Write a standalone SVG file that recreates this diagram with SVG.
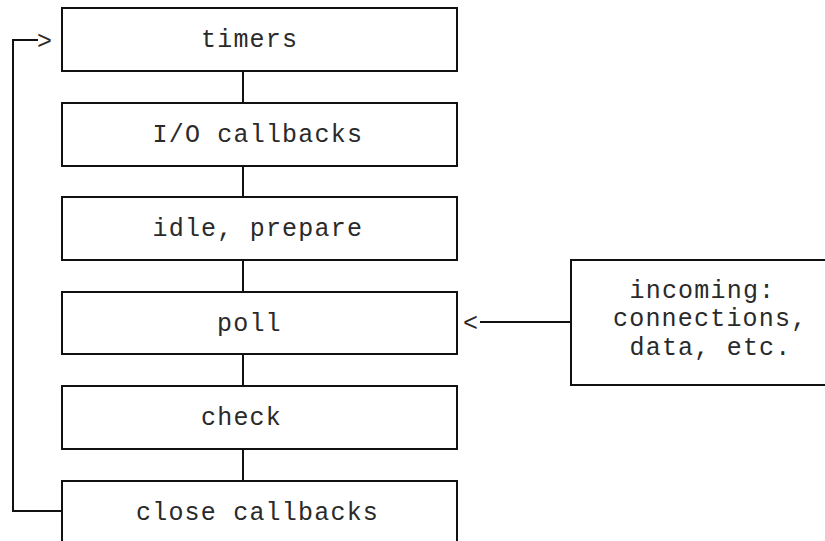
<svg xmlns="http://www.w3.org/2000/svg" width="825" height="541" viewBox="0 0 825 541">
  <style>
    .box { fill: #ffffff; stroke: #111111; stroke-width: 2; }
    .wire { fill: none; stroke: #111111; stroke-width: 2; }
    .label { font-family: "Liberation Mono", "Courier New", monospace; font-size: 25px; letter-spacing: 1.2px; fill: #2a2a2a; }
  </style>
  <rect width="825" height="541" fill="#ffffff"/>

  <!-- connectors -->
  <g id="connectors">
    <line class="wire" x1="243" y1="71" x2="243" y2="103"/>
    <line class="wire" x1="243" y1="166" x2="243" y2="197"/>
    <line class="wire" x1="243" y1="260" x2="243" y2="292"/>
    <line class="wire" x1="243" y1="354" x2="243" y2="386"/>
    <line class="wire" x1="243" y1="449" x2="243" y2="481"/>
    <!-- loop back from close callbacks to timers -->
    <polyline class="wire" points="62,511 13,511 13,40 38,40"/>
    <text class="label" x="37" y="49">&gt;</text>
    <!-- incoming feed into poll -->
    <line class="wire" x1="480" y1="322" x2="571" y2="322"/>
    <text class="label" x="463" y="331">&lt;</text>
  </g>

  <g id="timers">
    <rect class="box" x="62" y="8" width="395" height="63"/>
    <text class="label" x="201" y="47">timers</text>
  </g>
  <g id="io-callbacks">
    <rect class="box" x="62" y="103" width="395" height="63"/>
    <text class="label" x="152.5" y="141.5">I/O callbacks</text>
  </g>
  <g id="idle-prepare">
    <rect class="box" x="62" y="197" width="395" height="63"/>
    <text class="label" x="152.5" y="236">idle, prepare</text>
  </g>
  <g id="poll">
    <rect class="box" x="62" y="292" width="395" height="62"/>
    <text class="label" x="217" y="330.5">poll</text>
  </g>
  <g id="check">
    <rect class="box" x="62" y="386" width="395" height="63"/>
    <text class="label" x="201" y="425">check</text>
  </g>
  <g id="close-callbacks">
    <rect class="box" x="62" y="481" width="395" height="66"/>
    <text class="label" x="136" y="519.5">close callbacks</text>
  </g>
  <g id="incoming">
    <rect class="box" x="571" y="260" width="260" height="125"/>
    <text class="label" x="629.5" y="297.5">incoming:</text>
    <text class="label" x="613" y="326">connections,</text>
    <text class="label" x="629.5" y="355">data, etc.</text>
  </g>
</svg>
